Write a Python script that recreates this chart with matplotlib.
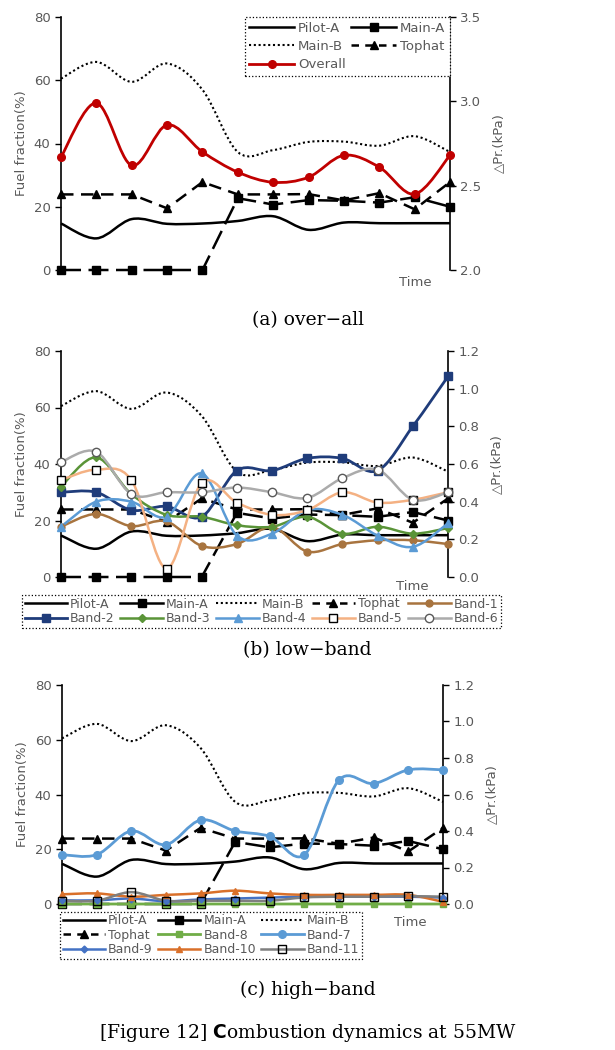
import matplotlib
matplotlib.use("Agg")
import matplotlib.pyplot as plt
from matplotlib.path import Path
from matplotlib.patches import PathPatch
from matplotlib.lines import Line2D
import numpy as np

# --- data ---
t = list(range(12))

pilot_a = [14.7, 10.0, 16.1, 14.6, 14.7, 15.5, 17.0, 12.7, 15.0, 14.8, 14.8, 14.8]
main_a = [0, 0, 0, 0, 0, 22.7, 20.7, 22.1, 21.9, 21.3, 23.0, 20.0]
main_b = [60.5, 65.8, 59.5, 65.3, 57.0, 37.3, 37.9, 40.5, 40.6, 39.3, 42.3, 37.3]
tophat = [23.9, 23.9, 23.9, 19.5, 27.8, 23.9, 23.9, 24.0, 22.0, 24.3, 19.2, 27.8]

overall = [2.67, 2.99, 2.62, 2.86, 2.70, 2.58, 2.52, 2.55, 2.68, 2.61, 2.45, 2.68]

band1 = [0.267, 0.335, 0.27, 0.295, 0.165, 0.175, 0.265, 0.135, 0.175, 0.195, 0.195, 0.175]
band2 = [0.45, 0.45, 0.355, 0.375, 0.32, 0.565, 0.565, 0.63, 0.63, 0.565, 0.80, 1.065]
band3 = [0.48, 0.635, 0.44, 0.33, 0.32, 0.275, 0.267, 0.32, 0.23, 0.267, 0.23, 0.26]
band4 = [0.267, 0.40, 0.40, 0.32, 0.55, 0.22, 0.23, 0.355, 0.33, 0.22, 0.16, 0.285]
band5 = [0.515, 0.57, 0.515, 0.045, 0.50, 0.395, 0.33, 0.355, 0.45, 0.395, 0.41, 0.45]
band6 = [0.61, 0.665, 0.44, 0.45, 0.45, 0.475, 0.45, 0.42, 0.525, 0.57, 0.41, 0.45]

band7 = [0.27, 0.27, 0.40, 0.325, 0.46, 0.40, 0.37, 0.27, 0.68, 0.66, 0.735, 0.735]
band8 = [0.0] * 12
band9 = [0.02, 0.02, 0.03, 0.015, 0.025, 0.03, 0.035, 0.04, 0.04, 0.04, 0.04, 0.035]
band10 = [0.053, 0.058, 0.04, 0.05, 0.058, 0.073, 0.058, 0.05, 0.05, 0.05, 0.05, 0.012]
band11 = [0.018, 0.018, 0.065, 0.018, 0.018, 0.018, 0.018, 0.036, 0.04, 0.04, 0.043, 0.04]

left_ticks = [0, 20, 40, 60, 80]
right_ticks_a = [2.0, 2.5, 3.0, 3.5]
right_ticks_bc = [0.0, 0.2, 0.4, 0.6, 0.8, 1.0, 1.2]

GRAY = "#595959"
FS = 9.5

plt.rcParams['font.family'] = ['DejaVu Sans']


def smooth_path(x, y):
    # excel-like smoothed line, drawn as cubic bezier through the points
    x = np.asarray(x, float)
    y = np.asarray(y, float)
    n = len(x)
    verts = [(x[0], y[0])]
    codes = [Path.MOVETO]
    for i in range(n - 1):
        i0 = max(i - 1, 0)
        i3 = min(i + 2, n - 1)
        c1 = (x[i] + (x[i + 1] - x[i0]) / 6, y[i] + (y[i + 1] - y[i0]) / 6)
        c2 = (x[i + 1] - (x[i3] - x[i]) / 6, y[i + 1] - (y[i3] - y[i]) / 6)
        verts += [c1, c2, (x[i + 1], y[i + 1])]
        codes += [Path.CURVE4] * 3
    return Path(verts, codes)


def sline(ax, y, color, lw=1.8, ls='-', marker=None, ms=5, mfc=None, mec=None):
    p = PathPatch(smooth_path(t, y), fill=False, edgecolor=color, lw=lw,
                  linestyle=ls, clip_on=False, zorder=3)
    ax.add_patch(p)
    if marker:
        ax.plot(t, y, ls='none', marker=marker, ms=ms,
                mfc=mfc if mfc else color, mec=mec if mec else color,
                clip_on=False, zorder=4)
    return Line2D([], [], color=color, lw=lw, ls=ls, marker=marker, ms=ms,
                  mfc=mfc if mfc else color, mec=mec if mec else color)


def base_lines(ax):
    h = {}
    h['Pilot-A'] = sline(ax, pilot_a, 'black', lw=1.8)
    h['Main-B'] = sline(ax, main_b, 'black', lw=1.5, ls=(0, (1, 1.3)))
    ax.plot(t, tophat, color='black', lw=1.8, ls=(0, (5, 3)), marker='^', ms=5.5,
            clip_on=False, zorder=3)
    h['Tophat'] = Line2D([], [], color='black', lw=1.8, ls=(0, (3, 2.5)), marker='^', ms=5.5)
    ax.plot(t, main_a, color='black', lw=1.8, ls=(0, (8, 3)), marker='s', ms=5.5,
            clip_on=False, zorder=3)
    h['Main-A'] = Line2D([], [], color='black', lw=1.8, marker='s', ms=5.5)
    return h


def style_axes(ax, ax2, rticks, rlim):
    ax.set_xlim(0, 11)
    ax.set_ylim(0, 80)
    ax.set_yticks(left_ticks)
    ax.set_xticks([])
    ax2.set_ylim(*rlim)
    ax2.set_yticks(rticks)
    ax2.set_yticklabels(['%.1f' % v for v in rticks])
    for a in (ax, ax2):
        a.spines['top'].set_visible(False)
        a.spines['bottom'].set_visible(False)
        a.tick_params(axis='y', colors=GRAY, labelsize=FS, length=4, width=1)
        a.tick_params(axis='y', color='black')
        a.patch.set_visible(False)
    ax.spines['right'].set_visible(False)
    ax.spines['left'].set_linewidth(1.2)
    ax2.spines['left'].set_visible(False)
    ax2.spines['right'].set_linewidth(1.2)
    ax.set_ylabel('Fuel fraction(%)', color=GRAY, fontsize=FS, labelpad=4)
    ax2.set_ylabel('△Pr.(kPa)', color=GRAY, fontsize=FS, labelpad=8, rotation=90)


def frame_style(leg):
    fr = leg.get_frame()
    fr.set_linestyle(':')
    fr.set_edgecolor('black')
    fr.set_linewidth(0.9)
    for tx in leg.get_texts():
        tx.set_color(GRAY)


fig = plt.figure(figsize=(6.15, 10.5), dpi=100)
W, H = 615.0, 1050.0


def box(l, r, top, bot):
    return [l / W, 1 - bot / H, (r - l) / W, (bot - top) / H]


# ---------------- (a) over-all ----------------
ax = fig.add_axes(box(61, 450, 17, 270))
ax2 = ax.twinx()
h = base_lines(ax)
h['Overall'] = sline(ax2, overall, '#C00000', lw=2, marker='o', ms=5.5)
style_axes(ax, ax2, right_ticks_a, (2.0, 3.5))
order = ['Pilot-A', 'Main-B', 'Overall', 'Main-A', 'Tophat']
leg = fig.legend([h[k] for k in order], order, ncol=2, loc='upper right',
                 bbox_to_anchor=(450 / W, 1 - 17 / H), fontsize=FS, fancybox=False,
                 handlelength=3.4, handletextpad=0.3, columnspacing=0.4,
                 borderpad=0.35, labelspacing=0.4, framealpha=1, borderaxespad=0)
frame_style(leg)
fig.text(415 / W, 1 - 283 / H, 'Time', color=GRAY, fontsize=FS, ha='center', va='center')
fig.text(0.5, 1 - 320 / H, '(a) over−all', fontsize=13.5, family='DejaVu Serif',
         ha='center', va='center')

# ---------------- (b) low-band ----------------
ax = fig.add_axes(box(61, 448, 351, 577))
ax2 = ax.twinx()
h = base_lines(ax)
h['Band-1'] = sline(ax2, band1, '#A8743F', marker='o', ms=5)
h['Band-2'] = sline(ax2, band2, '#1F3C7A', lw=2, marker='s', ms=5.5)
h['Band-3'] = sline(ax2, band3, '#5A9438', marker='D', ms=4)
h['Band-4'] = sline(ax2, band4, '#5B9BD5', marker='^', ms=5.5)
h['Band-5'] = sline(ax2, band5, '#F4B183', marker='s', ms=6, mfc='white', mec='black')
h['Band-6'] = sline(ax2, band6, '#ABABAB', marker='o', ms=6, mfc='white', mec='#595959')
style_axes(ax, ax2, right_ticks_bc, (0, 1.2))
order = ['Pilot-A', 'Band-2', 'Main-A', 'Band-3', 'Main-B', 'Band-4',
         'Tophat', 'Band-5', 'Band-1', 'Band-6']
leg = fig.legend([h[k] for k in order], order, ncol=5, loc='upper left',
                 bbox_to_anchor=(22 / W, 1 - 595 / H), fontsize=9, fancybox=False,
                 handlelength=3.4, handletextpad=0.25, columnspacing=0.45,
                 borderpad=0.2, labelspacing=0.15, framealpha=1, borderaxespad=0)
frame_style(leg)
fig.text(412 / W, 1 - 586 / H, 'Time', color=GRAY, fontsize=FS, ha='center', va='center')
fig.text(0.5, 1 - 650 / H, '(b) low−band', fontsize=13.5, family='DejaVu Serif',
         ha='center', va='center')

# ---------------- (c) high-band ----------------
ax = fig.add_axes(box(62, 443, 685, 904))
ax2 = ax.twinx()
h = base_lines(ax)
h['Band-7'] = sline(ax2, band7, '#5B9BD5', lw=2, marker='o', ms=5.5)
h['Band-8'] = sline(ax2, band8, '#70AD47', lw=2, marker='s', ms=5)
h['Band-9'] = sline(ax2, band9, '#4472C4', marker='D', ms=3.5)
h['Band-10'] = sline(ax2, band10, '#D9702A', marker='^', ms=5)
h['Band-11'] = sline(ax2, band11, '#7F7F7F', marker='s', ms=5.5, mfc='none', mec='black')
style_axes(ax, ax2, right_ticks_bc, (0, 1.2))
order = ['Pilot-A', 'Tophat', 'Band-9', 'Main-A', 'Band-8', 'Band-10',
         'Main-B', 'Band-7', 'Band-11']
leg = fig.legend([h[k] for k in order], order, ncol=3, loc='upper left',
                 bbox_to_anchor=(60 / W, 1 - 912 / H), fontsize=9, fancybox=False,
                 handlelength=3.4, handletextpad=0.25, columnspacing=0.4,
                 borderpad=0.2, labelspacing=0.1, framealpha=1, borderaxespad=0)
frame_style(leg)
fig.text(410 / W, 1 - 923 / H, 'Time', color=GRAY, fontsize=FS, ha='center', va='center')
fig.text(0.5, 1 - 990 / H, '(c) high−band', fontsize=13.5, family='DejaVu Serif',
         ha='center', va='center')

# caption
fig.text(0.5, 1 - 1033 / H, r'[Figure 12] $\mathbf{C}$ombustion dynamics at 55MW',
         fontsize=13.5, family='DejaVu Serif', ha='center', va='center')

fig.savefig('out.png', dpi=100)
